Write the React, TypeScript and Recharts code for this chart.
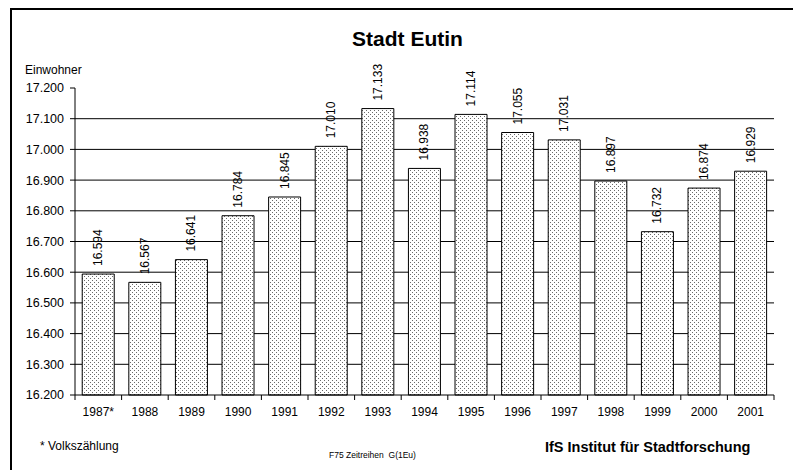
import { Bar, BarChart, CartesianGrid, LabelList, XAxis, YAxis } from 'recharts'

const years = ['1987*', '1988', '1989', '1990', '1991', '1992', '1993', '1994', '1995', '1996', '1997', '1998', '1999', '2000', '2001']
const einwohner = [16594, 16567, 16641, 16784, 16845, 17010, 17133, 16938, 17114, 17055, 17031, 16897, 16732, 16874, 16929]
const yTicks = [16200, 16300, 16400, 16500, 16600, 16700, 16800, 16900, 17000, 17100, 17200]
const gridValues = [16300, 16400, 16500, 16600, 16700, 16800, 16900, 17000, 17100]

const data = years.map((year, i) => ({ year, value: einwohner[i] }))

const font = '"Liberation Sans", Arial, sans-serif'

function formatDe(v: number) {
  return `${Math.floor(v / 1000)}.${String(v % 1000).padStart(3, '0')}`
}

function ValueLabel(props: any) {
  const { x, y, width, value } = props
  const cx = x + width / 2
  return (
    <text
      transform={`translate(${cx},${y - 8}) rotate(-90)`}
      textAnchor="start"
      dominantBaseline="central"
      fontSize={12}
      fontFamily={font}
      fill="#000"
    >
      {formatDe(value)}
    </text>
  )
}

// label at band centre, tick marks on the band edges
function YearTick(props: any) {
  const { x, y, payload, index } = props
  const half = payload.offset ?? 0
  const top = y - 12
  return (
    <g>
      <line x1={x - half} x2={x - half} y1={top} y2={top + 5} stroke="#000" />
      {index === years.length - 1 && <line x1={x + half} x2={x + half} y1={top} y2={top + 5} stroke="#000" />}
      <text x={x} y={y} dy="0.71em" textAnchor="middle" fontSize={12} fontFamily={font} fill="#000">
        {payload.value}
      </text>
    </g>
  )
}

export default function App() {
  return (
    <div style={{ position: 'absolute', left: 0, top: 0, width: 793, height: 470, background: '#fff', overflow: 'hidden', fontFamily: font }}>
      <div style={{ position: 'absolute', left: 10, top: 8, right: -5, bottom: -5, borderLeft: '2px solid #000', borderTop: '2px solid #000' }} />
      <div style={{ position: 'absolute', left: 0, top: 27, width: 815, textAlign: 'center', fontWeight: 'bold', fontSize: 21, color: '#000' }}>
        Stadt Eutin
      </div>
      <div style={{ position: 'absolute', left: 25, top: 63, fontSize: 12, color: '#000' }}>Einwohner</div>
      <BarChart
        width={793}
        height={470}
        data={data}
        margin={{ top: 88, right: 19, bottom: 45, left: 0 }}
        barCategoryGap="15.5%"
        style={{ position: 'absolute', left: 0, top: 0 }}
      >
        <defs>
          <pattern id="dots" width={4} height={4} patternUnits="userSpaceOnUse">
            <rect width={4} height={4} fill="#fff" />
            <rect x={0} y={0} width={1} height={1} fill="#6a6a6a" />
            <rect x={2} y={2} width={1} height={1} fill="#6a6a6a" />
          </pattern>
        </defs>
        <CartesianGrid vertical={false} horizontalValues={gridValues} stroke="#000" strokeWidth={1} />
        <XAxis
          dataKey="year"
          height={30}
          axisLine={{ stroke: '#000' }}
          tickLine={false}
          tickSize={0}
          tickMargin={12}
          interval={0}
          tick={YearTick}
        />
        <YAxis
          domain={[16200, 17200]}
          ticks={yTicks}
          width={75}
          interval={0}
          axisLine={{ stroke: '#000' }}
          tickLine={{ stroke: '#000' }}
          tickSize={5}
          tickMargin={6}
          tickFormatter={formatDe}
          tick={{ fill: '#000', fontSize: 12.5, fontFamily: font }}
        />
        <Bar dataKey="value" fill="url(#dots)" stroke="#000" strokeWidth={1} isAnimationActive={false}>
          <LabelList dataKey="value" content={ValueLabel} />
        </Bar>
      </BarChart>
      <div style={{ position: 'absolute', left: 40, top: 439, fontSize: 12, color: '#000' }}>* Volkszählung</div>
      <div style={{ position: 'absolute', left: 329, top: 450, fontSize: 8.5, color: '#000', whiteSpace: 'pre' }}>F75 Zeitreihen  G(1Eu)</div>
      <div style={{ position: 'absolute', left: 545, top: 439, fontSize: 14.5, fontWeight: 'bold', color: '#000' }}>IfS Institut für Stadtforschung</div>
    </div>
  )
}
